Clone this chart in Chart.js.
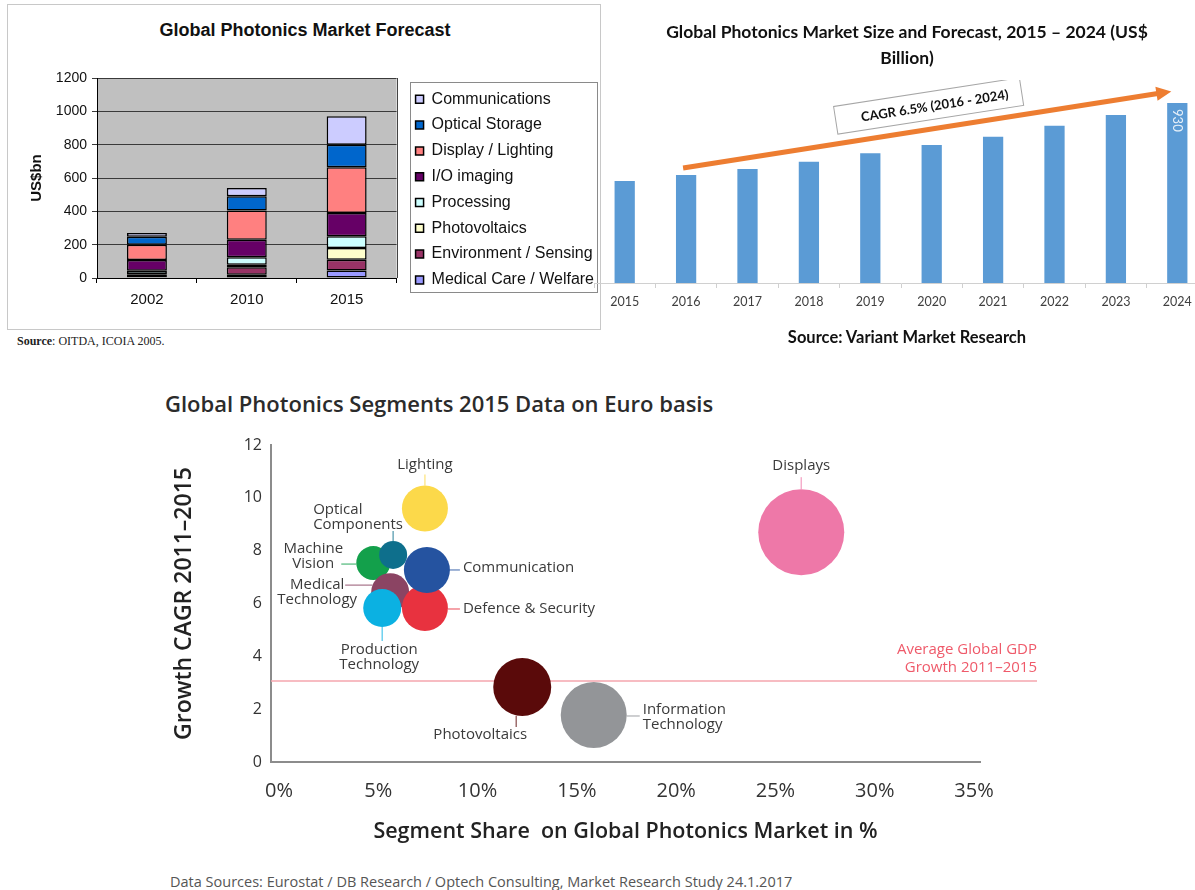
<!DOCTYPE html>
<html>
<head>
<meta charset="utf-8">
<script src="https://cdn.jsdelivr.net/npm/chart.js@4.4.1/dist/chart.umd.min.js"></script>
<style>
  html, body { margin: 0; padding: 0; background: #fff; width: 1195px; height: 890px; overflow: hidden; }
  .abs { position: absolute; }
  canvas { position: absolute; }
</style>
</head>
<body>
<div class="abs" style="left:7px;top:4px;width:594px;height:326px;border:1px solid #c8c8c8;box-sizing:border-box"></div>
<div class="abs" style="left:0;top:19px;width:610px;text-align:center;font:bold 18px 'Liberation Sans';line-height:22px;color:#111">Global Photonics Market Forecast</div>
<canvas id="forecast-chart" width="600" height="289" style="left:10px;top:36px"></canvas>
<div class="abs" style="left:17px;top:334px;font:12px 'Liberation Serif';line-height:14px;color:#222"><b>Source</b>: OITDA, ICOIA 2005.</div>

<div class="abs" style="left:600px;top:19px;width:614px;text-align:center;font:bold 17.5px Lato;line-height:26px;color:#111">Global Photonics Market Size and Forecast, 2015 – 2024 (US$<br>Billion)</div>
<canvas id="size-chart" width="614" height="240" style="left:594px;top:80px"></canvas>
<div class="abs" style="left:600px;top:326px;width:614px;text-align:center;font:bold 16.5px Lato;line-height:22px;color:#111">Source: Variant Market Research</div>

<div class="abs" style="left:165px;top:390px;font:600 22px 'Open Sans';line-height:26px;color:#2b2b2b">Global Photonics Segments 2015 Data on Euro basis</div>
<canvas id="segment-chart" width="880" height="427" style="left:160px;top:425px"></canvas>
<div class="abs" style="left:170px;top:873px;font:14.5px 'Open Sans';line-height:18px;color:#555">Data Sources: Eurostat / DB Research / Optech Consulting, Market Research Study 24.1.2017</div>

<script>
// ---- data: top left (US$bn, stacked)
var forecastYears = ['2002', '2010', '2015'];
var medicalCare = [4, 20, 45];
var environment = [18, 45, 65];
var photovoltaics = [2, 15, 70];
var processing = [20, 45, 70];
var ioImaging = [64, 105, 140];
var displayLighting = [92, 175, 275];
var opticalStorage = [48, 85, 135];
var communications = [22, 50, 170];

// ---- data: top right (US$ billion)
var sizeYears = ['2015', '2016', '2017', '2018', '2019', '2020', '2021', '2022', '2023', '2024'];
var marketSize = [527, 558, 589, 627, 670, 713, 756, 813, 868, 930];

// ---- data: bottom (share %, CAGR %, bubble size)
var segments = ['Lighting', 'Displays', 'Machine Vision', 'Optical Components', 'Medical Technology',
    'Production Technology', 'Defence & Security', 'Communication', 'Photovoltaics', 'Information Technology'];
var segmentShare = [7.35, 26.3, 4.75, 5.75, 5.6, 5.2, 7.35, 7.45, 12.25, 15.85];
var segmentGrowth = [9.6, 8.7, 7.53, 7.84, 6.43, 5.83, 5.83, 7.27, 2.84, 1.78];
var segmentSize = [23, 43, 17, 14, 19, 19, 23, 23, 29, 33];
var gdpGrowth = 3.07;
var shareTicks = [0, 5, 10, 15, 20, 25, 30, 35];

Chart.defaults.animation = false;
Chart.defaults.plugins.tooltip.enabled = false;

// ================= Global Photonics Market Forecast
var plotBack = {
    id: 'plotBack',
    beforeDraw: function (chart) {
        var a = chart.chartArea, ctx = chart.ctx;
        ctx.save();
        ctx.fillStyle = '#c0c0c0';
        ctx.fillRect(a.left, a.top, a.right - a.left, a.bottom - a.top);
        ctx.restore();
    },
    afterDraw: function (chart) {
        var a = chart.chartArea, ctx = chart.ctx, boxes = chart.legend.legendHitBoxes;
        ctx.save();
        ctx.strokeStyle = '#444';
        ctx.lineWidth = 1;
        ctx.beginPath();
        ctx.moveTo(Math.round(a.right) + 0.5, a.top);
        ctx.lineTo(Math.round(a.right) + 0.5, a.bottom);
        ctx.stroke();
        // legend frame
        var l = 1e9, t = 1e9, r = -1e9, b = -1e9;
        boxes.forEach(function (h) {
            l = Math.min(l, h.left); t = Math.min(t, h.top);
            r = Math.max(r, h.left + h.width); b = Math.max(b, h.top + h.height);
        });
        ctx.strokeStyle = '#8a8a8a';
        ctx.strokeRect(Math.round(l - 6) + 0.5, Math.round(t - 9) + 0.5, Math.round(r - l + 9), Math.round(b - t + 13));
        ctx.restore();
    }
};

function stackSet(label, data, color) {
    return { label: label, data: data, backgroundColor: color, borderColor: '#000', borderWidth: 1.5, borderSkipped: false };
}

new Chart(document.getElementById('forecast-chart'), {
    type: 'bar',
    data: {
        labels: forecastYears,
        datasets: [
            stackSet('Medical Care / Welfare', medicalCare, '#9999ff'),
            stackSet('Environment / Sensing', environment, '#993366'),
            stackSet('Photovoltaics', photovoltaics, '#ffffcc'),
            stackSet('Processing', processing, '#ccffff'),
            stackSet('I/O imaging', ioImaging, '#660066'),
            stackSet('Display / Lighting', displayLighting, '#ff8080'),
            stackSet('Optical Storage', opticalStorage, '#0066cc'),
            stackSet('Communications', communications, '#ccccff')
        ]
    },
    options: {
        responsive: false,
        devicePixelRatio: 1,
        layout: { autoPadding: false, padding: { top: 42, bottom: 7, left: 0, right: 6 } },
        datasets: { bar: { barPercentage: 0.4, categoryPercentage: 1 } },
        plugins: {
            legend: {
                position: 'right',
                align: 'start',
                reverse: true,
                maxWidth: 230,
                title: { display: true, text: '', padding: 0, font: { size: 2.9 } },
                labels: {
                    boxWidth: 8, boxHeight: 8, padding: 9.8, color: '#111',
                    font: { family: 'Liberation Sans', size: 16 }
                }
            }
        },
        scales: {
            x: {
                stacked: true,
                afterFit: function (s) { s.height = 40; },
                grid: { drawOnChartArea: false, tickLength: 5, color: '#000', offset: true },
                border: { color: '#000' },
                ticks: { padding: 8, color: '#111', font: { family: 'Liberation Sans', size: 15 } }
            },
            y: {
                stacked: true,
                min: 0, max: 1200,
                afterFit: function (s) { s.width = 87; },
                grid: { color: '#3a3a3a', tickLength: 5 },
                border: { color: '#000' },
                ticks: { stepSize: 200, padding: 5, color: '#111', font: { family: 'Liberation Sans', size: 14 },
                    callback: function (v) { return String(v); } },
                title: { display: true, text: 'US$bn', color: '#111', padding: { top: 18 },
                    font: { family: 'Liberation Sans', size: 15, weight: 'bold' } }
            },
            spacer: {
                type: 'linear', position: 'right',
                afterFit: function (s) { s.width = 9.2; },
                grid: { display: false }, border: { display: false }, ticks: { display: false }
            }
        }
    },
    plugins: [plotBack]
});

// ================= Market size and forecast
var trendNote = {
    id: 'trendNote',
    afterDatasetsDraw: function (chart) {
        var ctx = chart.ctx, x = chart.scales.x, y = chart.scales.y;
        // value label on last bar
        var last = marketSize.length - 1;
        var bar = chart.getDatasetMeta(0).data[last];
        ctx.save();
        ctx.translate(bar.x, bar.y + 6);
        ctx.rotate(Math.PI / 2);
        ctx.fillStyle = 'rgba(255,255,255,0.85)';
        ctx.font = '13px Lato';
        ctx.textAlign = 'left';
        ctx.textBaseline = 'middle';
        ctx.fillText(String(marketSize[last]), 0, 0);
        ctx.restore();

        // CAGR arrow
        var x0 = x.getPixelForValue(1) - 3, y0 = y.getPixelForValue(marketSize[1] + 36);
        var x1 = x.getPixelForValue(last) - 6, y1 = y.getPixelForValue(990);
        var ang = Math.atan2(y1 - y0, x1 - x0);
        ctx.save();
        ctx.strokeStyle = '#ed7d31';
        ctx.fillStyle = '#ed7d31';
        ctx.lineWidth = 5;
        ctx.beginPath();
        ctx.moveTo(x0, y0);
        ctx.lineTo(x1 - 12 * Math.cos(ang), y1 - 12 * Math.sin(ang));
        ctx.stroke();
        ctx.translate(x1, y1);
        ctx.rotate(ang);
        ctx.beginPath();
        ctx.moveTo(0, 0);
        ctx.lineTo(-15, -7);
        ctx.lineTo(-15, 7);
        ctx.closePath();
        ctx.fill();
        ctx.restore();

        // CAGR box
        var cx = x.getPixelForValue(4.95), cy = y.getPixelForValue(915);
        ctx.save();
        ctx.translate(cx, cy);
        ctx.rotate(-8.8 * Math.PI / 180);
        ctx.fillStyle = '#fff';
        ctx.strokeStyle = '#a6a6a6';
        ctx.lineWidth = 1;
        ctx.fillRect(-94, -14, 188, 28);
        ctx.strokeRect(-94, -14, 188, 28);
        ctx.fillStyle = '#111';
        ctx.font = 'bold 13px Lato';
        ctx.textAlign = 'center';
        ctx.textBaseline = 'middle';
        ctx.fillText('CAGR 6.5% (2016 - 2024)', 6, 1);
        ctx.restore();
    }
};

new Chart(document.getElementById('size-chart'), {
    type: 'bar',
    data: {
        labels: sizeYears,
        datasets: [{ label: 'Market size', data: marketSize, backgroundColor: '#5b9bd5', borderWidth: 0 }]
    },
    options: {
        responsive: false,
        devicePixelRatio: 1,
        layout: { autoPadding: false, padding: { top: 9.5, bottom: 7, left: 0, right: 0 } },
        datasets: { bar: { barPercentage: 0.33, categoryPercentage: 1 } },
        plugins: { legend: { display: false } },
        scales: {
            x: {
                afterFit: function (s) { s.height = 30; },
                grid: { drawOnChartArea: false, tickLength: 5, color: '#d0d0d0', offset: true },
                border: { color: '#d0d0d0' },
                ticks: { padding: 6.8, color: '#404040', font: { family: 'Lato', size: 12.5 } }
            },
            y: { display: false, min: 0, max: 1000 }
        }
    },
    plugins: [trendNote]
});

// ================= Segments bubble chart
var segmentColors = ['#fcd94a', '#ee78a8', '#13a04b', '#0e6f8c', '#8b4463', '#0bb1e2', '#e8323f', '#2553a0', '#5a0a0a', '#939598'];
// label placement relative to bubble centre (px)
var labelSpots = [
    { dx: 0, dy: -44, align: 'center', lead: [0, -34, 0, -23] },
    { dx: 0, dy: -66, align: 'center', lead: [0, -55, 0, -43] },
    { dx: -60, dy: -14, align: 'center', lead: [-32, 1, -17, 1] },
    { dx: -80, dy: -45, align: 'left', lead: [0, -24, 0, -14] },
    { dx: -73, dy: -7, align: 'center', lead: [-45, -7, -18, -7] },
    { dx: -3, dy: 42, align: 'center', lead: [0, 19, 0, 33] },
    { dx: 38, dy: 1, align: 'left', lead: [23, 1, 35, 1] },
    { dx: 36, dy: -2, align: 'left', lead: [22, 0, 33, 0] },
    { dx: -42, dy: 48, align: 'center', lead: [-6, 29, -6, 40] },
    { dx: 49, dy: -5, align: 'left', lead: [33, 1, 46, 1] }
];
var twoLine = [false, false, true, true, true, true, false, false, false, true];

function fade(hex, a) {
    var n = parseInt(hex.slice(1), 16);
    return 'rgba(' + (n >> 16) + ',' + ((n >> 8) & 255) + ',' + (n & 255) + ',' + a + ')';
}

var segmentNotes = {
    id: 'segmentNotes',
    beforeDatasetsDraw: function (chart) {
        var ctx = chart.ctx, a = chart.chartArea, gy = chart.scales.y.getPixelForValue(gdpGrowth);
        ctx.save();
        ctx.strokeStyle = '#f5a6ae';
        ctx.lineWidth = 1.5;
        ctx.beginPath();
        ctx.moveTo(a.left, gy);
        ctx.lineTo(a.right + 57, gy);
        ctx.stroke();
        ctx.fillStyle = '#ef5a6a';
        ctx.font = '15px "Open Sans"';
        ctx.textAlign = 'right';
        ctx.textBaseline = 'middle';
        ctx.fillText('Average Global GDP', a.right + 57, gy - 31);
        ctx.fillText('Growth 2011–2015', a.right + 57, gy - 13);
        ctx.restore();
    },
    afterDatasetsDraw: function (chart) {
        var ctx = chart.ctx, pts = chart.getDatasetMeta(0).data;
        ctx.save();
        ctx.font = '15px "Open Sans"';
        ctx.textBaseline = 'middle';
        segments.forEach(function (name, i) {
            var p = pts[i], s = labelSpots[i], ld = s.lead;
            ctx.strokeStyle = fade(segmentColors[i], 0.6);
            ctx.lineWidth = 1.5;
            ctx.beginPath();
            ctx.moveTo(p.x + ld[0], p.y + ld[1]);
            ctx.lineTo(p.x + ld[2], p.y + ld[3]);
            ctx.stroke();
            var lines = twoLine[i] ? name.split(' ') : [name];
            ctx.fillStyle = '#3a3a3a';
            ctx.textAlign = s.align;
            lines.forEach(function (t, k) {
                ctx.fillText(t, p.x + s.dx, p.y + s.dy + k * 15);
            });
        });
        ctx.restore();
    }
};

new Chart(document.getElementById('segment-chart'), {
    type: 'bubble',
    data: {
        datasets: [{
            label: 'Segments',
            data: segmentShare.map(function (v, i) { return { x: v, y: segmentGrowth[i], r: segmentSize[i] }; }),
            backgroundColor: segmentColors,
            borderWidth: 0,
            hoverRadius: 0
        }]
    },
    options: {
        responsive: false,
        devicePixelRatio: 1,
        layout: { autoPadding: false, padding: { top: 20, bottom: 0, left: 0, right: 60 } },
        plugins: { legend: { display: false } },
        scales: {
            x: {
                type: 'linear', min: -0.4, max: 35.3,
                afterBuildTicks: function (s) { s.ticks = shareTicks.map(function (v) { return { value: v }; }); },
                afterFit: function (s) { s.height = 90; },
                grid: { drawOnChartArea: false, drawTicks: false },
                border: { color: '#8c8c8c', width: 2 },
                ticks: { padding: 17, autoSkip: false, maxRotation: 0, color: '#333',
                    font: { family: 'Open Sans', size: 20 }, callback: function (v) { return v + '%'; } },
                title: { display: true, text: 'Segment Share  on Global Photonics Market in %', color: '#222',
                    padding: { top: 0, bottom: 7 }, font: { family: 'Open Sans', size: 21.5, weight: '600' } }
            },
            y: {
                min: 0, max: 12,
                afterFit: function (s) { s.width = 111; },
                grid: { drawOnChartArea: false, drawTicks: false },
                border: { color: '#8c8c8c', width: 2 },
                ticks: { stepSize: 2, padding: 9, color: '#333', font: { family: 'Open Sans', size: 16 } },
                title: { display: true, text: 'Growth CAGR 2011–2015', color: '#222',
                    padding: { top: 11 }, font: { family: 'Open Sans', size: 23, weight: '600' } }
            }
        }
    },
    plugins: [segmentNotes]
});
</script>
</body>
</html>
